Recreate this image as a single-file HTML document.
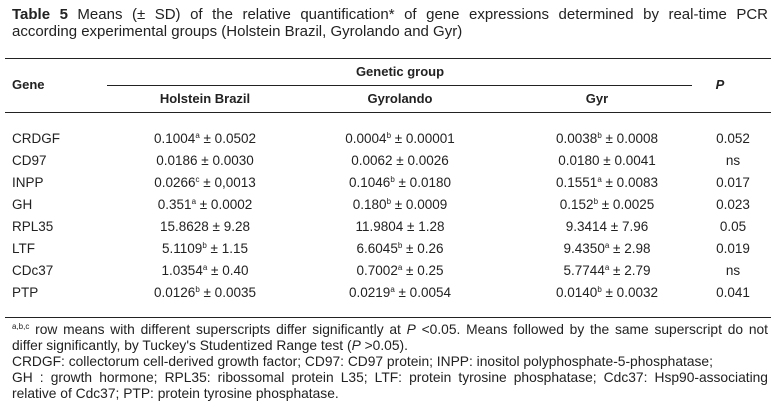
<!DOCTYPE html>
<html><head><meta charset="utf-8"><style>
body{margin:0;width:776px;height:407px;background:#fff;position:relative;font-family:"Liberation Sans",Arial,sans-serif;color:#222;overflow:hidden}
.a{position:absolute;white-space:nowrap}
.c{transform:translateX(-50%)}
.r{position:absolute;height:1px;background:#222}
.j{position:absolute;left:12px;width:756px;text-align:justify;text-align-last:justify;white-space:nowrap}
.l{position:absolute;left:12px;white-space:nowrap}
.tt{font-size:15px;line-height:17px}
.h{font-weight:bold;font-size:13px}
.d{font-size:13.5px}
.f{font-size:13.8px;line-height:16px}
sup{font-size:8px;vertical-align:5px;line-height:0}
</style></head><body>
<div>
<div class="j tt" style="top:6px"><b>Table 5</b> Means (± SD) of the relative quantification* of gene expressions determined by real-time PCR</div>
<div class="l tt" style="top:23px">according experimental groups (Holstein Brazil, Gyrolando and Gyr)</div>
</div>
<div class="r" style="left:5px;width:766px;top:58px"></div>
<div class="r" style="left:107px;width:585px;top:85px"></div>
<div class="r" style="left:5px;width:766px;top:112px"></div>
<div class="r" style="left:5px;width:766px;top:317px"></div>
<div class="a h" style="left:12px;top:77px">Gene</div>
<div class="a h c" style="left:400px;top:64px">Genetic group</div>
<div class="a h c" style="left:720px;top:77px;font-style:italic">P</div>
<div class="a h c" style="left:205px;top:91px">Holstein Brazil</div>
<div class="a h c" style="left:400px;top:91px">Gyrolando</div>
<div class="a h c" style="left:597px;top:91px">Gyr</div>
<div id="rows"></div>
<div>
<div class="j f" style="top:322px"><sup>a,b,c</sup> row means with different superscripts differ significantly at <i>P</i> &lt;0.05. Means followed by the same superscript do not</div>
<div class="l f" style="top:338px">differ significantly, by Tuckey's Studentized Range test (<i>P</i> &gt;0.05).</div>
<div class="l f" style="top:354px">CRDGF: collectorum cell-derived growth factor; CD97: CD97 protein; INPP: inositol polyphosphate-5-phosphatase;</div>
<div class="j f" style="top:370px">GH : growth hormone; RPL35: ribossomal protein L35; LTF: protein tyrosine phosphatase; Cdc37: Hsp90-associating</div>
<div class="l f" style="top:386px">relative of Cdc37; PTP: protein tyrosine phosphatase.</div>
</div>
<script>
var genes=["CRDGF","CD97","INPP","GH","RPL35","LTF","CDc37","PTP"];
var holstein=["0.1004<sup>a</sup> ± 0.0502","0.0186 ± 0.0030","0.0266<sup>c</sup> ± 0,0013","0.351<sup>a</sup> ± 0.0002","15.8628 ± 9.28","5.1109<sup>b</sup> ± 1.15","1.0354<sup>a</sup> ± 0.40","0.0126<sup>b</sup> ± 0.0035"];
var gyrolando=["0.0004<sup>b</sup> ± 0.00001","0.0062 ± 0.0026","0.1046<sup>b</sup> ± 0.0180","0.180<sup>b</sup> ± 0.0009","11.9804 ± 1.28","6.6045<sup>b</sup> ± 0.26","0.7002<sup>a</sup> ± 0.25","0.0219<sup>a</sup> ± 0.0054"];
var gyr=["0.0038<sup>b</sup> ± 0.0008","0.0180 ± 0.0041","0.1551<sup>a</sup> ± 0.0083","0.152<sup>b</sup> ± 0.0025","9.3414 ± 7.96","9.4350<sup>a</sup> ± 2.98","5.7744<sup>a</sup> ± 2.79","0.0140<sup>b</sup> ± 0.0032"];
var pvals=["0.052","ns","0.017","0.023","0.05","0.019","ns","0.041"];
var box=document.getElementById('rows');
function cell(html,x,y,center,name){
  var d=document.createElement('div');
  d.className='a d'+(center?' c':'');
  d.style.left=x+'px';d.style.top=y+'px';
  d.innerHTML=html;
  
  
  box.appendChild(d);
}
for(var i=0;i<genes.length;i++){
  var y=131+i*22;
  cell(genes[i],12,y,false,'gene-label');
  cell(holstein[i],205,y,true,'holstein-value');
  cell(gyrolando[i],400,y,true,'gyrolando-value');
  cell(gyr[i],607,y,true,'gyr-value');
  cell(pvals[i],733,y,true,'p-value');
}
</script>
</body></html>
